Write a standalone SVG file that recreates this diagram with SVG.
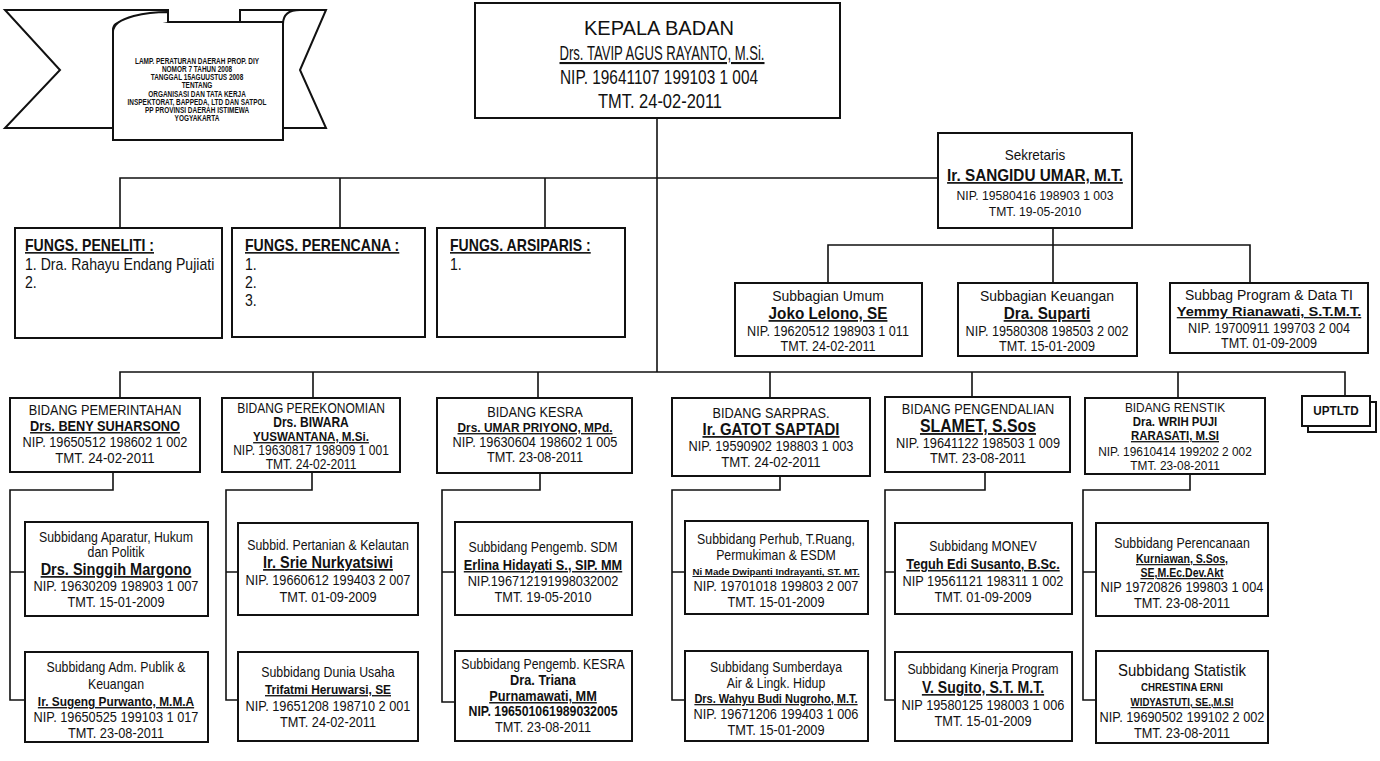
<svg xmlns="http://www.w3.org/2000/svg" width="1380" height="761" viewBox="0 0 1380 761">
<style>
text{font-family:"Liberation Sans",Arial,sans-serif;fill:#111;text-anchor:middle}
.b{fill:#fff;stroke:#111;stroke-width:2}
.c{fill:none;stroke:#111;stroke-width:1.6}
.n{font-weight:bold;text-decoration:underline}
.u{text-decoration:underline}
.bo{font-weight:bold}
.l{text-anchor:start}
</style>
<rect width="1380" height="761" fill="#fff"/>

<g id="banner">
<path class="b" d="M5,10 H168 V128 H5 L60,70 Z"/>
<path class="b" d="M326,10 H240 V128 H326 L300,70 Z"/>
<path class="b" d="M122,22 H283 V140 H113 V30 C113,25 117,22 122,22 Z"/>
<path class="b" d="M113,32 C113,16 150,12 168,12 L168,22"/>
<path class="b" d="M283,24 C283,14 290,10 300,10"/>
<g transform="translate(197 0) scale(.68 1)" font-size="9.5" font-weight="bold">
<text y="64">LAMP. PERATURAN DAERAH PROP. DIY</text>
<text y="72">NOMOR 7 TAHUN 2008</text>
<text y="80">TANGGAL 15AGUUSTUS 2008</text>
<text y="88">TENTANG</text>
<text y="97">ORGANISASI DAN TATA KERJA</text>
<text y="105">INSPEKTORAT, BAPPEDA, LTD DAN SATPOL</text>
<text y="113">PP PROVINSI DAERAH ISTIMEWA</text>
<text y="121">YOGYAKARTA</text>
</g>
</g>

<g id="connectors">
<path class="c" d="M657,118 V372"/>
<path class="c" d="M120,228 V178 H938 M340,178 V228 M545,178 V228"/>
<path class="c" d="M1053,228 V283 M828,283 V245 H1250 V283"/>
<path class="c" d="M120,398 V372 H1345 V396 M313,372 V398 M538,372 V398 M770,372 V398 M972,372 V397 M1178,372 V398"/>
<path class="c" d="M113,472 V490 H10 V700 H25 M10,572 H25"/>
<path class="c" d="M312,472 V490 H226 V700 H238 M226,572 H238"/>
<path class="c" d="M540,473 V490 H442 V702 H455 M442,572 H455"/>
<path class="c" d="M780,476 V490 H672 V700 H685 M672,572 H685"/>
<path class="c" d="M985,472 V490 H885 V700 H895 M885,572 H895"/>
<path class="c" d="M1190,474 V490 H1083 V700 H1096 M1083,572 H1096"/>
</g>

<g id="kepala">
<rect class="b" x="475" y="3" width="365" height="115"/>
<g font-size="20">
<text x="659" y="35" textLength="150" lengthAdjust="spacingAndGlyphs">KEPALA BADAN</text>
<text class="u" x="662" y="60" font-size="21" textLength="205" lengthAdjust="spacingAndGlyphs">Drs. TAVIP AGUS RAYANTO, M.Si.</text>
<text x="659" y="84" textLength="198" lengthAdjust="spacingAndGlyphs">NIP. 19641107 199103 1 004</text>
<text x="660" y="108" textLength="124" lengthAdjust="spacingAndGlyphs">TMT. 24-02-2011</text>
</g>
</g>

<g id="sekretaris">
<rect class="b" x="938" y="133" width="194" height="95"/>
<g transform="translate(1035 0) scale(.9 1)" font-size="13.5">
<text y="160" font-size="15">Sekretaris</text>
<text class="n" y="181" font-size="17">Ir. SANGIDU UMAR, M.T.</text>
<text y="200">NIP. 19580416 198903 1 003</text>
<text y="216">TMT. 19-05-2010</text>
</g>
</g>

<g id="fungs-peneliti">
<rect class="b" x="15" y="228" width="207" height="110"/>
<g transform="translate(25 0) scale(.88 1)" font-size="16">
<text class="l n" y="251">FUNGS. PENELITI :</text>
<text class="l" y="270">1. Dra. Rahayu Endang Pujiati</text>
<text class="l" y="288">2.</text>
</g>
</g>
<g id="fungs-perencana">
<rect class="b" x="232" y="228" width="193" height="109"/>
<g transform="translate(245 0) scale(.88 1)" font-size="16">
<text class="l n" y="251">FUNGS. PERENCANA  :</text>
<text class="l" y="270">1.</text>
<text class="l" y="288">2.</text>
<text class="l" y="306">3.</text>
</g>
</g>
<g id="fungs-arsiparis">
<rect class="b" x="437" y="228" width="188" height="109"/>
<g transform="translate(450 0) scale(.88 1)" font-size="16">
<text class="l n" y="251">FUNGS. ARSIPARIS :</text>
<text class="l" y="270">1.</text>
</g>
</g>

<g id="subbag-umum">
<rect class="b" x="735" y="283" width="187" height="73"/>
<g transform="translate(828 0) scale(.9 1)" font-size="14">
<text y="301" font-size="15.5">Subbagian Umum</text>
<text class="n" y="319" font-size="17">Joko Lelono, SE</text>
<text y="336">NIP. 19620512 198903 1 011</text>
<text y="351">TMT. 24-02-2011</text>
</g>
</g>
<g id="subbag-keuangan">
<rect class="b" x="958" y="283" width="179" height="73"/>
<g transform="translate(1047 0) scale(.9 1)" font-size="14">
<text y="301" font-size="15.5">Subbagian Keuangan</text>
<text class="n" y="319" font-size="17">Dra. Suparti</text>
<text y="336">NIP. 19580308 198503 2 002</text>
<text y="351">TMT. 15-01-2009</text>
</g>
</g>
<g id="subbag-program">
<rect class="b" x="1170" y="283" width="198" height="70"/>
<g transform="translate(1269 0) scale(.9 1)" font-size="14">
<text y="300" font-size="15.5">Subbag Program &amp; Data TI</text>
<text class="n" y="316" font-size="13" textLength="205" lengthAdjust="spacingAndGlyphs">Yemmy  Rianawati, S.T.M.T.</text>
<text y="333">NIP. 19700911 199703 2 004</text>
<text y="348">TMT. 01-09-2009</text>
</g>
</g>

<g id="bidang-pemerintahan">
<rect class="b" x="10" y="398" width="190" height="74"/>
<g transform="translate(105 0) scale(.88 1)" font-size="14.5">
<text y="415">BIDANG PEMERINTAHAN</text>
<text class="n" y="431">Drs. BENY SUHARSONO</text>
<text y="447">NIP. 19650512 198602 1 002</text>
<text y="463" font-size="15">TMT. 24-02-2011</text>
</g>
</g>
<g id="bidang-perekonomian">
<rect class="b" x="222" y="398" width="178" height="74"/>
<g transform="translate(311 0) scale(.86 1)" font-size="14">
<text y="413">BIDANG PEREKONOMIAN</text>
<text class="bo" y="427">Drs. BIWARA</text>
<text class="n" y="441" font-size="13.5">YUSWANTANA, M.Si.</text>
<text y="455">NIP. 19630817 198909 1 001</text>
<text y="469">TMT. 24-02-2011</text>
</g>
</g>
<g id="bidang-kesra">
<rect class="b" x="437" y="398" width="195" height="75"/>
<g transform="translate(535 0) scale(.88 1)" font-size="14.5">
<text y="417">BIDANG KESRA</text>
<text class="n" y="432" font-size="13.5">Drs. UMAR PRIYONO, MPd.</text>
<text y="447">NIP. 19630604 198602 1 005</text>
<text y="462">TMT. 23-08-2011</text>
</g>
</g>
<g id="bidang-sarpras">
<rect class="b" x="672" y="398" width="198" height="78"/>
<g transform="translate(771 0) scale(.88 1)" font-size="14.5">
<text y="418">BIDANG SARPRAS.</text>
<text class="n" y="435" font-size="17">Ir. GATOT SAPTADI</text>
<text y="451">NIP. 19590902 198803 1 003</text>
<text y="467" font-size="15">TMT. 24-02-2011</text>
</g>
</g>
<g id="bidang-pengendalian">
<rect class="b" x="885" y="397" width="185" height="75"/>
<g transform="translate(978 0) scale(.88 1)" font-size="14.5">
<text y="414">BIDANG PENGENDALIAN</text>
<text class="n" y="432" font-size="18">SLAMET, S.Sos</text>
<text y="448">NIP. 19641122 198503 1 009</text>
<text y="463">TMT. 23-08-2011</text>
</g>
</g>
<g id="bidang-renstik">
<rect class="b" x="1085" y="398" width="180" height="76"/>
<g transform="translate(1175 0) scale(.88 1)" font-size="13.5">
<text y="412">BIDANG RENSTIK</text>
<text class="bo" y="426" font-size="13">Dra. WRIH PUJI</text>
<text class="n" y="440" font-size="13">RARASATI, M.SI</text>
<text y="456">NIP. 19610414 199202 2 002</text>
<text y="470">TMT. 23-08-2011</text>
</g>
</g>
<g id="uptltd">
<rect class="b" x="1308" y="402" width="68" height="30"/>
<rect class="b" x="1302" y="396" width="68" height="30"/>
<text class="bo" x="1336" y="415" font-size="13" transform="translate(1336 0) scale(.9 1) translate(-1336 0)">UPTLTD</text>
</g>

<g id="sub-aparatur">
<rect class="b" x="25" y="522" width="183" height="94"/>
<g transform="translate(116 0) scale(.88 1)" font-size="14">
<text y="542">Subbidang Aparatur, Hukum</text>
<text y="557">dan Politik</text>
<text class="n" y="575" font-size="16.5">Drs. Singgih Margono</text>
<text y="591" font-size="14.5">NIP. 19630209 198903 1 007</text>
<text y="607" font-size="14.5">TMT. 15-01-2009</text>
</g>
</g>
<g id="sub-pertanian">
<rect class="b" x="238" y="523" width="180" height="92"/>
<g transform="translate(328 0) scale(.88 1)" font-size="14">
<text y="550">Subbid. Pertanian &amp; Kelautan</text>
<text class="n" y="568" font-size="16.5">Ir. Srie Nurkyatsiwi</text>
<text y="585" font-size="14.5">NIP. 19660612 199403 2 007</text>
<text y="602" font-size="14.5">TMT. 01-09-2009</text>
</g>
</g>
<g id="sub-sdm">
<rect class="b" x="455" y="522" width="177" height="93"/>
<g transform="translate(543 0) scale(.88 1)" font-size="14">
<text y="552">Subbidang Pengemb. SDM</text>
<text class="n" y="570" font-size="14.5">Erlina Hidayati S., SIP. MM</text>
<text y="586" font-size="14.5">NIP.196712191998032002</text>
<text y="602" font-size="14.5">TMT. 19-05-2010</text>
</g>
</g>
<g id="sub-perhub">
<rect class="b" x="685" y="521" width="183" height="93"/>
<g transform="translate(776 0) scale(.88 1)" font-size="14">
<text y="544">Subbidang Perhub, T.Ruang,</text>
<text y="560">Permukiman &amp; ESDM</text>
<text class="n" y="575" font-size="9.5" textLength="190" lengthAdjust="spacingAndGlyphs">Ni Made Dwipanti Indrayanti, ST. MT.</text>
<text y="591" font-size="14.5">NIP. 19701018 199803 2 007</text>
<text y="607" font-size="14.5">TMT. 15-01-2009</text>
</g>
</g>
<g id="sub-monev">
<rect class="b" x="895" y="523" width="177" height="91"/>
<g transform="translate(983 0) scale(.88 1)" font-size="14">
<text y="551">Subbidang MONEV</text>
<text class="n" y="569" font-size="14.5">Teguh Edi Susanto, B.Sc.</text>
<text y="586" font-size="14.5">NIP 19561121 198311 1 002</text>
<text y="602" font-size="14.5">TMT. 01-09-2009</text>
</g>
</g>
<g id="sub-perencanaan">
<rect class="b" x="1096" y="523" width="172" height="93"/>
<g transform="translate(1182 0) scale(.88 1)" font-size="14">
<text y="548">Subbidang Perencanaan</text>
<text class="n" y="563" font-size="12">Kurniawan, S.Sos,</text>
<text class="n" y="577" font-size="12">SE,M.Ec.Dev.Akt</text>
<text y="592" font-size="14.5">NIP 19720826 199803 1 004</text>
<text y="608" font-size="14.5">TMT. 23-08-2011</text>
</g>
</g>

<g id="sub-admpublik">
<rect class="b" x="25" y="652" width="183" height="90"/>
<g transform="translate(116 0) scale(.88 1)" font-size="14">
<text y="672">Subbidang Adm. Publik &amp;</text>
<text y="689">Keuangan</text>
<text class="n" y="706" font-size="13.5">Ir. Sugeng Purwanto, M.M.A</text>
<text y="722" font-size="14.5">NIP. 19650525 199103 1 017</text>
<text y="738" font-size="14.5">TMT. 23-08-2011</text>
</g>
</g>
<g id="sub-duniausaha">
<rect class="b" x="238" y="652" width="180" height="89"/>
<g transform="translate(328 0) scale(.88 1)" font-size="14">
<text y="677">Subbidang Dunia Usaha</text>
<text class="n" y="694" font-size="13.5">Trifatmi Heruwarsi, SE</text>
<text y="711" font-size="14.5">NIP. 19651208 198710 2 001</text>
<text y="727" font-size="14.5">TMT. 24-02-2011</text>
</g>
</g>
<g id="sub-kesra">
<rect class="b" x="455" y="651" width="177" height="90"/>
<g transform="translate(543 0) scale(.88 1)" font-size="14">
<text y="669">Subbidang Pengemb. KESRA</text>
<text class="bo" y="685" font-size="14.5">Dra. Triana</text>
<text class="n" y="701" font-size="14.5">Purnamawati, MM</text>
<text class="bo" y="716">NIP. 196501061989032005</text>
<text y="732" font-size="14.5">TMT. 23-08-2011</text>
</g>
</g>
<g id="sub-sumberdaya">
<rect class="b" x="685" y="651" width="183" height="90"/>
<g transform="translate(776 0) scale(.88 1)" font-size="14">
<text y="672">Subbidang Sumberdaya</text>
<text y="688">Air &amp; Lingk. Hidup</text>
<text class="n" y="703" font-size="12.5">Drs. Wahyu Budi Nugroho, M.T.</text>
<text y="719" font-size="14.5">NIP. 19671206 199403 1 006</text>
<text y="735" font-size="14.5">TMT. 15-01-2009</text>
</g>
</g>
<g id="sub-kinerja">
<rect class="b" x="895" y="652" width="177" height="89"/>
<g transform="translate(983 0) scale(.88 1)" font-size="14">
<text y="674">Subbidang Kinerja Program</text>
<text class="n" y="693" font-size="16">V. Sugito, S.T. M.T.</text>
<text y="710" font-size="14.5">NIP 19580125 198003 1 006</text>
<text y="726" font-size="14.5">TMT. 15-01-2009</text>
</g>
</g>
<g id="sub-statistik">
<rect class="b" x="1096" y="651" width="172" height="92"/>
<g transform="translate(1182 0) scale(.88 1)" font-size="14">
<text y="676" font-size="17">Subbidang Statistik</text>
<text class="bo" y="691" font-size="11">CHRESTINA ERNI</text>
<text class="n" y="706" font-size="11">WIDYASTUTI, SE.,M.SI</text>
<text y="722" font-size="14.5">NIP. 19690502 199102 2 002</text>
<text y="738" font-size="14.5">TMT. 23-08-2011</text>
</g>
</g>
</svg>
